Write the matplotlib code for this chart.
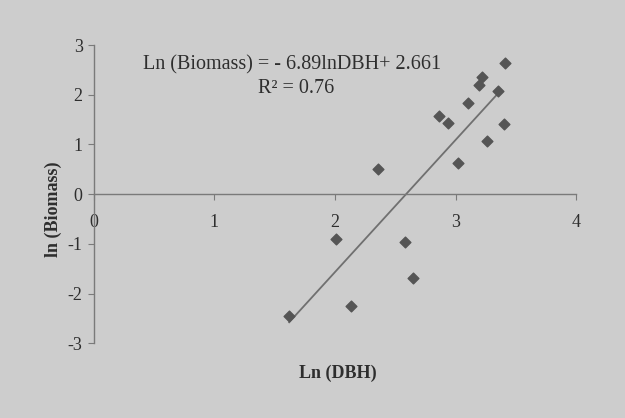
import matplotlib.pyplot as plt
import numpy as np

# ln(DBH) and ln(Biomass)
ln_dbh = [1.62, 2.01, 2.13, 2.36, 2.58, 2.65, 2.86, 2.94, 3.02, 3.10,
          3.19, 3.22, 3.26, 3.35, 3.40, 3.41]
ln_biomass = [-2.45, -0.91, -2.26, 0.51, -0.97, -1.69, 1.57, 1.44, 0.63, 1.84,
              2.19, 2.35, 1.07, 2.07, 1.41, 2.65]

# linear trend as printed on the chart (slope / intercept)
slope = 2.661
intercept = -6.89
trend_range = [1.62, 3.36]

x_ticks = [0, 1, 2, 3, 4]
y_ticks = [-3, -2, -1, 0, 1, 2, 3]

equation_text = "Ln (Biomass) = - 6.89lnDBH+ 2.661"
r2_text = "R² = 0.76"

BG = "#cdcdcd"
INK = "#2e2e2e"
MARK = "#555555"

plt.rcParams["font.family"] = ["Liberation Serif", "DejaVu Serif"]
plt.rcParams["axes.unicode_minus"] = False

fig = plt.figure(figsize=(6.25, 4.18), dpi=100, facecolor=BG)
ax = fig.add_axes([0.150, 0.179, 0.772, 0.713])
ax.set_facecolor(BG)

ax.scatter(ln_dbh, ln_biomass, marker="D", s=30, color=MARK, zorder=3)

tx = np.array(trend_range)
ax.plot(tx, slope * tx + intercept, color="#707070", lw=1.3, zorder=2)

ax.set_xlim(0, 4)
ax.set_ylim(-3, 3)
ax.set_xticks(x_ticks)
ax.set_yticks(y_ticks)

ax.spines["top"].set_visible(False)
ax.spines["right"].set_visible(False)
ax.spines["bottom"].set_position(("data", 0))
for side in ("left", "bottom"):
    ax.spines[side].set_color("#7a7a7a")
    ax.spines[side].set_linewidth(1.0)

ax.tick_params(axis="both", colors="#7a7a7a", labelcolor=INK, labelsize=13,
               length=4, direction="out")
ax.tick_params(axis="x", pad=10)
ax.tick_params(axis="y", pad=4)

ax.text(0.41, 0.935, equation_text, transform=ax.transAxes, ha="center",
        va="center", fontsize=14.5, color=INK)
ax.text(0.42, 0.855, r2_text, transform=ax.transAxes, ha="center",
        va="center", fontsize=14.5, color=INK)

fig.text(0.54, 0.108, "Ln (DBH)", ha="center", va="center", fontsize=13,
         fontweight="bold", color=INK)
fig.text(0.085, 0.50, "ln (Biomass)", ha="center", va="center", fontsize=13,
         fontweight="bold", color=INK, rotation=90)

fig.savefig("out.png", dpi=100, facecolor=BG)
